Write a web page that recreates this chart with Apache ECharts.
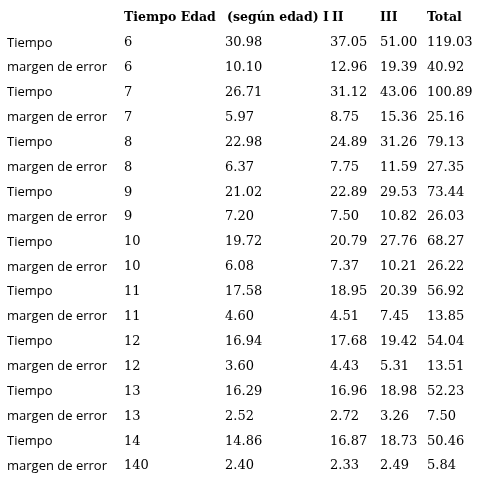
<!DOCTYPE html><html><head><meta charset="utf-8">
<script src="https://cdn.jsdelivr.net/npm/echarts@6/dist/echarts.min.js"></script>
<style>html,body{margin:0;background:#fff}#c{width:484px;height:483px}</style></head><body><div id="c"></div>
<script>
const headers = ["", "Tiempo Edad", "(según edad) I", "II", "III", "Total"];
const rowLabels = ["Tiempo","margen de error","Tiempo","margen de error","Tiempo","margen de error","Tiempo","margen de error","Tiempo","margen de error","Tiempo","margen de error","Tiempo","margen de error","Tiempo","margen de error","Tiempo","margen de error"];
const edades = ["6","6","7","7","8","8","9","9","10","10","11","11","12","12","13","13","14","140"];
const colSegunEdad = ["30.98","10.10","26.71","5.97","22.98","6.37","21.02","7.20","19.72","6.08","17.58","4.60","16.94","3.60","16.29","2.52","14.86","2.40"];
const colII = ["37.05","12.96","31.12","8.75","24.89","7.75","22.89","7.50","20.79","7.37","18.95","4.51","17.68","4.43","16.96","2.72","16.87","2.33"];
const colIII = ["51.00","19.39","43.06","15.36","31.26","11.59","29.53","10.82","27.76","10.21","20.39","7.45","19.42","5.31","18.98","3.26","18.73","2.49"];
const colTotal = ["119.03","40.92","100.89","25.16","79.13","27.35","73.44","26.03","68.27","26.22","56.92","13.85","54.04","13.51","52.23","7.50","50.46","5.84"];

// layout: left edge of each column (pixels)
const bodyX = [7,124,225,330,380,427];
const headX = [0,124,227,332,380,427];
const cols = [rowLabels, edades, colSegunEdad, colII, colIII, colTotal];
const rows = ["h"].concat(rowLabels.map((_, i) => "r" + i));
const data = [];
headers.forEach((h, c) => { if (h) data.push([c, 0, h, 1]); });
cols.forEach((arr, c) => arr.forEach((v, r) => data.push([c, r + 1, v, 0])));

const chart = echarts.init(document.getElementById('c'));
chart.setOption({
  animation: false,
  grid: {left: 0, right: 0, top: 5.5, bottom: 4.5},
  xAxis: {type: 'category', data: headers.map((_, i) => i), show: false},
  yAxis: {type: 'category', data: rows, inverse: true, show: false},
  series: [{
    type: 'custom',
    data: data,
    renderItem: function (params, api) {
      const c = api.value(0), r = api.value(1), bold = api.value(3) === 1;
      const p = api.coord([c, r]);
      const x = bold ? headX[c] : bodyX[c];
      const font = bold ? 'bold 12.5px "DejaVu Serif"' : (c === 0 ? '13px "Open Sans"' : '13px "DejaVu Serif"');
      return {type: 'text', style: {x: x, y: p[1], text: data[params.dataIndex][2],
        fill: '#000', font: font, textVerticalAlign: 'middle'}};
    }
  }]
});
</script></body></html>
